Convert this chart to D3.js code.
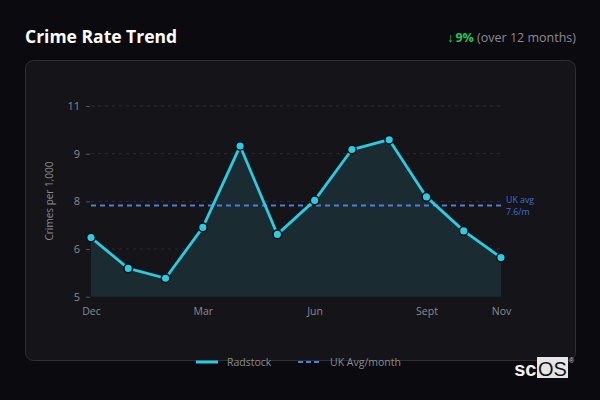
<!DOCTYPE html>
<html><head><meta charset="utf-8">
<script src="https://cdn.jsdelivr.net/npm/d3@7"></script>
<style>
html,body{margin:0;padding:0;background:#0b0b0f;}
svg{display:block;font-family:"Open Sans",sans-serif;}
</style></head>
<body>
<svg id="c" width="600" height="400"></svg>
<script>
const months = ["Dec","Jan","Feb","Mar","Apr","May","Jun","Jul","Aug","Sept","Oct","Nov"];
const radstock = [6.86,5.89,5.58,7.18,9.74,6.96,8.03,9.63,9.94,8.14,7.07,6.23];
const ukAvg = 7.87;
const ukAvgLabel = ["UK avg","7.6/m"];
const xTickLabels = ["Dec","Mar","Jun","Sept","Nov"];
const yTickValues = [5,6.5,8,9.5,11];
const yTickLabels = ["5","6","8","9","11"];

const svg = d3.select("#c");
svg.append("rect").attr("width",600).attr("height",400).attr("fill","#0b0b0f");

// header
svg.append("text").attr("x",25).attr("y",43).attr("fill","#fff")
  .attr("font-size",17.5).attr("font-weight",700).text("Crime Rate Trend");
const hdr = svg.append("text").attr("x",576).attr("y",42).attr("text-anchor","end").attr("font-size",12.5);
hdr.append("tspan").attr("fill","#22c55e").text("↓");
hdr.append("tspan").attr("fill","#22c55e").attr("font-weight",700).attr("dx",2).text("9%");
hdr.append("tspan").attr("fill","#8a8a90").text(" (over 12 months)");

// panel
svg.append("rect").attr("x",25.5).attr("y",60.5).attr("width",550).attr("height",300)
  .attr("rx",8).attr("fill","#141419").attr("stroke","#2e2e34");

const x = d3.scalePoint().domain(months).range([91,501]);
const y = d3.scaleLinear().domain([5,11]).range([296.7,106]);

// grid
const g = svg.append("g");
g.selectAll("line.grid").data(yTickValues.slice(1)).join("line")
  .attr("x1",91).attr("x2",501).attr("y1",d=>y(d)).attr("y2",d=>y(d))
  .attr("stroke","#2c2c32").attr("stroke-dasharray","3,4").attr("stroke-width",1);

// y axis
const yAxis = d3.axisLeft(y).tickValues(yTickValues).tickSize(4).tickPadding(6)
  .tickFormat((d,i)=>yTickLabels[i]);
const ya = svg.append("g").attr("transform","translate(90,0)").call(yAxis);
ya.select(".domain").remove();
ya.selectAll(".tick line").attr("stroke","#55555c");
ya.selectAll(".tick text").attr("fill","#8a8a90").attr("font-size",11).attr("font-family","Open Sans");

// x axis
const xAxis = d3.axisBottom(x).tickValues(["Dec","Mar","Jun","Sept","Nov"]).tickSize(0).tickPadding(10)
  .tickFormat((d,i)=>xTickLabels[i]);
const xa = svg.append("g").attr("transform","translate(0,298)").call(xAxis);
xa.select(".domain").remove();
xa.selectAll(".tick text").attr("fill","#8a8a90").attr("font-size",10.5).attr("font-family","Open Sans");

// y title
svg.append("text").attr("transform","translate(53,201) rotate(-90)").attr("text-anchor","middle")
  .attr("fill","#8a8a90").attr("font-size",10).text("Crimes per 1,000");

const data = months.map((m,i)=>({m,v:radstock[i]}));
// area
svg.append("path").datum(data)
  .attr("d",d3.area().x(d=>x(d.m)).y0(y(5)).y1(d=>y(d.v)))
  .attr("fill","#1a2c33").attr("opacity",0.95);

// uk avg
svg.append("line").attr("x1",91).attr("x2",501).attr("y1",y(ukAvg)).attr("y2",y(ukAvg))
  .attr("stroke","#4a7fdc").attr("stroke-width",2).attr("stroke-dasharray","5,4");
const ulY = y(ukAvg);
svg.append("text").attr("x",506).attr("y",ulY-2.5).attr("fill","#3d6fd0").attr("font-size",8.8).text(ukAvgLabel[0]);
svg.append("text").attr("x",506).attr("y",ulY+9.5).attr("fill","#3d6fd0").attr("font-size",8.8).text(ukAvgLabel[1]);

// line
svg.append("path").datum(data)
  .attr("d",d3.line().x(d=>x(d.m)).y(d=>y(d.v)))
  .attr("fill","none").attr("stroke","#26cde3").attr("stroke-width",2.8).attr("stroke-linejoin","round");
svg.selectAll("circle.pt").data(data).join("circle")
  .attr("cx",d=>x(d.m)).attr("cy",d=>y(d.v)).attr("r",4.3)
  .attr("fill","#26cde3").attr("stroke","#0d0d12").attr("stroke-width",1.5);

// legend
svg.append("line").attr("x1",196).attr("x2",218).attr("y1",362).attr("y2",362)
  .attr("stroke","#26cde3").attr("stroke-width",3);
svg.append("text").attr("x",227).attr("y",366).attr("fill","#8a8a90").attr("font-size",10.5).text("Radstock");
svg.append("line").attr("x1",298).attr("x2",322).attr("y1",362).attr("y2",362)
  .attr("stroke","#4a7fdc").attr("stroke-width",2).attr("stroke-dasharray","5,3");
svg.append("text").attr("x",330).attr("y",366).attr("fill","#8a8a90").attr("font-size",10.5).text("UK Avg/month");

// logo
svg.append("rect").attr("x",537).attr("y",357).attr("width",31).attr("height",21).attr("fill","#e6e6e6");
svg.append("text").attr("x",536.5).attr("y",376).attr("text-anchor","end").attr("fill","#f0f0f0").attr("font-size",20)
  .attr("font-family","Liberation Sans, Arial, sans-serif").attr("font-weight",700).text("sc");
svg.append("text").attr("x",538).attr("y",376).attr("fill","#141419").attr("font-size",20)
  .attr("font-family","Liberation Sans, Arial, sans-serif").text("OS");
svg.append("text").attr("x",569).attr("y",363).attr("fill","#cfcfcf").attr("font-size",7)
  .attr("font-family","Liberation Sans, Arial, sans-serif").text("®");
</script>
</body></html>
